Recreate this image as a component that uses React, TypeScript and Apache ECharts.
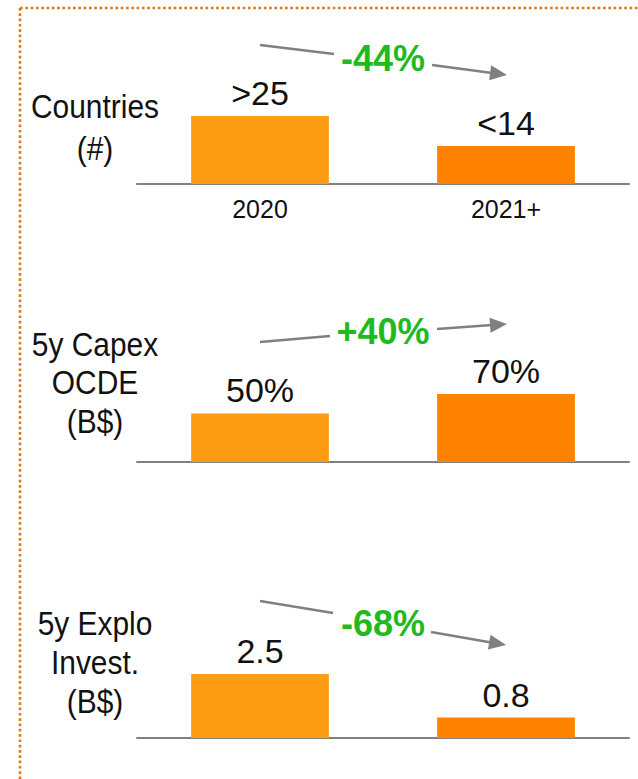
import React, { useEffect, useRef } from "react";
import * as echarts from "echarts";

const categories = ["2020", "2021+"];
const countriesValues = [25, 14];
const countriesLabels = [">25", "<14"];
const capexValues = [50, 70];
const capexLabels = ["50%", "70%"];
const exploValues = [2.5, 0.8];
const exploLabels = ["2.5", "0.8"];
const changeLabels = ["-44%", "+40%", "-68%"];
const rowTitles = [["Countries", "(#)"], ["5y Capex", "OCDE", "(B$)"], ["5y Explo", "Invest.", "(B$)"]];
const barColors = ["#FD9D14", "#FF8200"];

const FONT = "'Liberation Sans', Arial, Helvetica, sans-serif";
const GRAY = "#808080";
const GREEN = "#1FBA1F";

function arrowGraphics(
  a: [number, number], b: [number, number], c: [number, number], d: [number, number]
) {
  const dx = d[0] - c[0];
  const dy = d[1] - c[1];
  const len = Math.sqrt(dx * dx + dy * dy);
  const ux = dx / len, uy = dy / len;
  const headLen = 17, headHalf = 7.5;
  const bx = d[0] - ux * headLen, by = d[1] - uy * headLen;
  const px = -uy, py = ux;
  return [
    { type: "line", shape: { x1: a[0], y1: a[1], x2: b[0], y2: b[1] }, style: { stroke: GRAY, lineWidth: 2.5 } },
    { type: "line", shape: { x1: c[0], y1: c[1], x2: bx + ux * 2, y2: by + uy * 2 }, style: { stroke: GRAY, lineWidth: 2.5 } },
    {
      type: "polygon",
      shape: { points: [[d[0], d[1]], [bx + px * headHalf, by + py * headHalf], [bx - px * headHalf, by - py * headHalf]] },
      style: { fill: GRAY },
    },
  ];
}

export default function App() {
  const ref = useRef<HTMLDivElement>(null);
  useEffect(() => {
    document.body.style.margin = "0";
    if (!ref.current) return;
    const chart = echarts.init(ref.current, undefined, { renderer: "svg" });

    const axisBottoms = [184, 462, 738];
    const barTops = [116, 394, 674];
    const values = [countriesValues, capexValues, exploValues];
    const labels = [countriesLabels, capexLabels, exploLabels];
    const H = 779;

    const grids = axisBottoms.map((ab, i) => ({
      left: 137,
      right: 9,
      top: barTops[i],
      bottom: H - ab,
    }));
    const xAxes = axisBottoms.map((_, i) => ({
      type: "category",
      gridIndex: i,
      data: categories,
      axisTick: { show: false },
      axisLine: { lineStyle: { color: GRAY, width: 2 } },
      axisLabel: {
        show: i === 0,
        color: "#111",
        fontSize: 25,
        fontFamily: FONT,
        margin: 12,
      },
    }));
    const yAxes = axisBottoms.map((_, i) => ({
      type: "value",
      gridIndex: i,
      min: 0,
      max: Math.max(...values[i]),
      show: false,
      splitLine: { show: false },
    }));
    const series = values.map((vals, i) => ({
      type: "bar",
      xAxisIndex: i,
      yAxisIndex: i,
      barWidth: "56%",
      data: vals.map((v, j) => ({ value: v, itemStyle: { color: barColors[j] } })),
      label: {
        show: true,
        position: "top",
        distance: 6,
        fontSize: 34,
        fontFamily: FONT,
        color: "#111",
        formatter: (p: any) => labels[i][p.dataIndex],
      },
    }));

    const titleYs = [[106, 148], [344, 382, 421], [623, 662, 701]];
    const titleTexts: any[] = [];
    rowTitles.forEach((lines, i) => {
      lines.forEach((t, k) => {
        titleTexts.push({
          type: "text",
          x: 95,
          y: titleYs[i][k],
          scaleX: 0.88,
          style: {
            text: t,
            fill: "#111",
            fontSize: 34,
            fontFamily: FONT,
            textAlign: "center",
            textVerticalAlign: "middle",
          },
        });
      });
    });

    const changeYs = [58, 331, 623];
    const changeTexts = changeLabels.map((t, i) => ({
      type: "text",
      x: 383,
      y: changeYs[i],
      style: {
        text: t,
        fill: GREEN,
        fontSize: 36,
        fontWeight: "bold",
        fontFamily: FONT,
        textAlign: "center",
        textVerticalAlign: "middle",
      },
    }));

    const arrows = [
      ...arrowGraphics([260, 45], [334, 54], [432, 65], [507, 75]),
      ...arrowGraphics([260, 342], [330, 336], [437, 329], [507, 324]),
      ...arrowGraphics([260, 601], [333, 613], [431, 632], [506, 645]),
    ];

    const border = [
      { type: "line", shape: { x1: 20, y1: 8, x2: 638, y2: 8 }, style: { stroke: "#E07A18", lineWidth: 2.6, lineDash: [2.7, 2.6] } },
      { type: "line", shape: { x1: 20, y1: 8, x2: 20, y2: 779 }, style: { stroke: "#E07A18", lineWidth: 2.6, lineDash: [2.7, 2.6] } },
    ];

    chart.setOption({
      animation: false,
      backgroundColor: "#ffffff",
      grid: grids,
      xAxis: xAxes,
      yAxis: yAxes,
      series,
      graphic: [...border, ...titleTexts, ...changeTexts, ...arrows],
    });
    return () => chart.dispose();
  }, []);
  return <div ref={ref} style={{ width: 638, height: 779 }} />;
}
